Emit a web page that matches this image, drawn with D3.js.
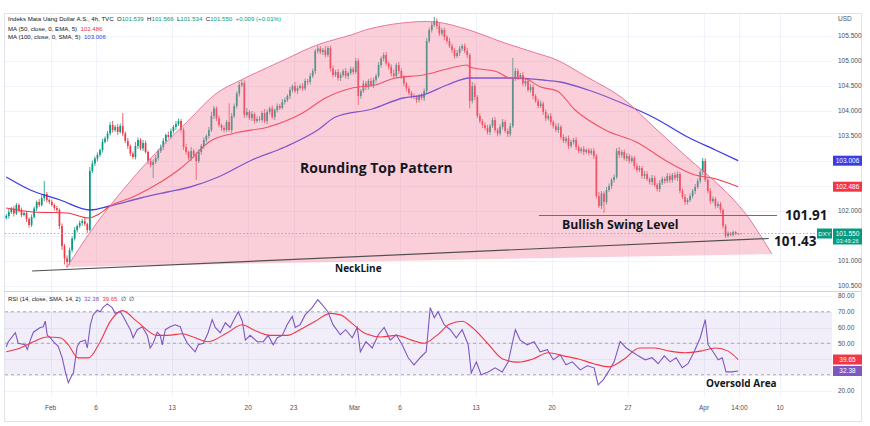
<!DOCTYPE html>
<html><head><meta charset="utf-8">
<script src="https://cdn.jsdelivr.net/npm/d3@7/dist/d3.min.js"></script>
<style>body{margin:0;background:#fff}svg{display:block;font-family:"Liberation Sans",Arial,sans-serif}text{white-space:pre}</style>
</head><body><svg id="c" width="870" height="426"></svg>
<script>
// ---- DATA (4h DXY candles, Jan 27 – Apr 5) ----
const firstOpen = 101.86;
const closes = [
101.90,101.98,102.05,101.95,102.12,102.02,101.92,101.96,101.84,101.72,
101.88,102.05,102.18,102.12,102.26,102.34,102.22,102.18,102.12,102.06,
102.02,101.70,101.30,101.05,100.98,101.22,101.45,101.62,101.70,101.76,
101.80,101.74,101.62,102.80,102.95,103.05,103.12,103.22,103.38,103.45,
103.55,103.72,103.62,103.68,103.58,103.70,103.55,103.40,103.30,103.15,
103.08,103.30,103.42,103.25,103.36,103.18,103.00,102.92,102.98,103.06,
103.20,103.28,103.40,103.52,103.48,103.60,103.68,103.74,103.80,103.62,
103.28,103.18,103.06,103.20,103.12,103.00,103.18,103.30,103.42,103.50,
103.62,103.90,104.05,103.85,103.72,103.66,103.62,103.78,103.62,103.90,
104.10,104.35,104.52,104.56,103.92,103.98,103.86,103.94,103.80,103.84,
103.82,103.96,103.80,103.98,104.05,103.88,104.02,104.10,104.06,104.18,
104.22,104.30,104.42,104.50,104.40,104.46,104.50,104.45,104.60,104.58,
104.70,104.80,105.20,105.25,105.18,105.22,105.12,105.26,104.85,104.72,
104.78,104.66,104.72,104.80,104.70,104.76,104.84,104.78,105.00,104.30,
104.40,104.55,104.48,104.60,104.52,104.62,104.70,104.92,105.05,105.12,
104.95,104.88,104.75,104.70,104.92,104.80,104.68,104.55,104.45,104.36,
104.30,104.28,104.22,104.30,104.26,104.40,105.40,105.62,105.72,105.80,
105.70,105.55,105.62,105.48,105.40,105.30,105.22,105.10,105.16,105.25,
105.30,105.20,105.12,104.20,104.50,104.28,103.90,103.80,103.72,103.66,
103.58,103.70,103.82,103.62,103.55,103.68,103.78,103.60,103.54,103.70,
104.65,104.80,104.68,104.72,104.55,104.60,104.42,104.48,104.30,104.20,
104.10,104.15,103.98,103.85,103.90,103.78,103.70,103.62,103.68,103.48,
103.40,103.45,103.30,103.38,103.42,103.28,103.20,103.24,103.18,103.22,
103.16,103.20,103.10,102.30,102.10,102.35,102.18,102.42,102.50,102.62,
102.68,103.20,103.12,103.18,103.05,103.10,103.00,103.06,102.90,102.82,
102.86,102.70,102.74,102.64,102.58,102.66,102.52,102.44,102.56,102.64,
102.60,102.70,102.62,102.72,102.66,102.74,102.40,102.28,102.18,102.22,
102.30,102.40,102.48,102.60,102.78,103.00,102.62,102.40,102.20,102.24,
102.10,102.14,102.02,101.70,101.50,101.56,101.52,101.58,101.54,101.55,
101.55];
// wick extension above body / below body, in hundredths
const hiExt = [
4,6,3,5,4,3,5,2,4,3, 5,4,3,6,8,26,4,3,5,3, 4,3,5,4,6,5,4,6,3,5, 4,6,3,8,6,4,5,3,6,4,
5,6,8,4,6,5,26,4,6,3, 4,8,5,4,6,5,3,4,5,6, 4,5,6,3,7,5,4,6,5,4, 5,6,3,8,4,5,6,4,5,3,
6,8,5,4,6,3,5,4,37,6, 5,4,6,6,5,8,4,6,3,5, 6,4,8,5,4,6,3,5,4,6, 5,4,6,3,8,5,4,6,5,4,
6,5,4,6,5,4,8,4,5,6, 4,6,5,4,6,3,5,4,6,5, 4,6,5,4,6,5,4,6,4,5, 6,4,5,8,4,6,5,4,3,5,
4,5,3,4,6,5,6,5,6,8, 5,6,4,5,4,6,5,4,6,5, 4,5,6,4,8,5,4,6,4,5, 6,4,5,6,4,5,6,4,5,6,
41,6,5,4,6,5,4,6,5,4, 5,6,4,5,4,6,3,5,8,4, 5,4,6,5,4,6,5,4,6,3, 4,5,6,4,8,5,4,6,5,4,
5,6,8,4,5,6,4,5,4,6, 5,4,6,5,4,6,5,4,6,5, 4,6,5,4,6,5,4,5,6,4, 5,4,6,5,4,6,5,4,6,5,
4,5,4,3,4,3,2,3,2,1, 1];
const loExt = [
3,5,4,6,3,5,4,3,6,5, 4,3,5,4,3,6,5,4,3,5, 4,6,8,12,12,6,5,4,5,4, 5,4,6,3,4,5,6,4,5,3,
6,4,5,4,6,3,5,4,6,5, 4,5,6,4,5,3,6,5,26,4, 5,4,6,5,3,4,5,6,4,5, 6,5,4,6,5,38,4,5,6,4,
5,4,6,5,4,6,5,4,3,6, 4,5,6,4,6,5,4,6,5,4, 3,5,4,6,5,4,6,5,4,3, 5,4,6,5,4,6,3,5,4,6,
5,4,6,5,4,6,5,4,6,5, 4,5,6,4,5,6,4,5,4,18, 5,4,6,5,4,6,5,4,5,6, 4,5,6,4,5,6,4,5,6,4,
5,4,6,5,4,6,5,4,5,4, 6,5,4,6,5,4,6,5,4,6, 5,4,6,15,5,6,4,5,6,4, 5,6,4,5,6,4,5,4,6,5,
4,5,6,4,5,6,4,5,6,4, 5,4,6,5,4,6,5,4,6,5, 4,5,6,4,5,6,4,5,6,4, 5,4,6,5,4,6,22,5,4,6,
5,4,6,5,4,6,5,4,6,5, 4,5,6,4,5,6,4,5,6,4, 5,4,6,5,4,6,5,4,6,5, 4,5,6,4,5,6,4,5,6,4,
5,4,6,5,4,3,2,3,2,1, 1];
// moving averages, [bar, price]
const ema50 = [[0,102.06],[10.7,101.98],[24,101.96],[32.4,101.86],[36,101.92],[41,102.10],[50,102.28],[61,102.58],[69,102.86],[72.6,103.02],[80,103.38],[90.4,103.56],[103.4,103.68],[117,103.96],[126,104.26],[136.6,104.46],[145.7,104.52],[153.6,104.66],[164.6,104.72],[174,104.84],[182,104.92],[183,104.88],[194,104.78],[199,104.66],[204,104.66],[211,104.48],[217.5,104.40],[224.6,104.02],[236.5,103.62],[249.5,103.36],[260,103.02],[272,102.72],[278.7,102.66],[289,102.486]];
const sma100 = [[0,102.68],[9.5,102.42],[21.3,102.22],[33.2,102.02],[41,102.10],[53,102.26],[63.6,102.38],[72.6,102.48],[83.7,102.68],[97,103.02],[110,103.28],[123,103.62],[130,103.88],[144.5,104.04],[156.7,104.26],[164.6,104.32],[174,104.52],[183,104.66],[199,104.66],[212,104.62],[218.7,104.58],[229.8,104.42],[243,104.16],[256,103.86],[269,103.48],[280,103.22],[289,103.006]];
// RSI(14) and its SMA(14), [bar, value]
const rsi = [[0,47.8],[0.8,51],[3.6,56.7],[4.7,50],[7.5,49],[8.3,46],[9.5,52],[10.7,57],[13.4,60],[14.6,60.5],[15.4,64],[16.2,55],[17.4,53.5],[18.6,51],[20.5,48],[22.1,40.7],[23.3,32],[24.5,25],[26,30],[26.5,31],[28,48],[29.2,51],[31.2,52],[32,47],[33.2,61.7],[34.3,68],[35.9,71],[37.1,70],[38.3,73],[39.9,75],[41.8,72.6],[43,69],[45,70],[46.2,67],[47.8,62],[49,58.6],[50.1,53.5],[51.7,58.6],[53.7,60.5],[55.7,55],[56.8,47],[58,50],[59.6,57],[60.8,55],[61.6,49],[62.8,58.6],[64.7,60.5],[66.7,61.7],[68.7,60.5],[69.9,55],[71.5,50],[72.6,48],[74.6,44.6],[75.8,49],[77.8,50],[79.7,56.7],[81.3,65],[82.5,60],[84.5,56.7],[86.5,63],[88.4,60],[89.6,64],[91.6,70],[93.2,64],[94.4,52],[96.3,55],[99.1,51],[101.5,51],[103.4,55],[105.4,49],[107,53.5],[109,55],[110.9,61.7],[112.9,67],[114.1,60],[116,61.7],[118,68],[120.8,72.6],[123,77.7],[124.7,74.5],[127,70],[129,61.8],[131.9,55.4],[134,58.6],[136.6,53.5],[138.6,60],[139.8,44.6],[142,51],[144.5,47],[146.9,55.4],[149.2,60],[151.6,52],[154,55.4],[156.3,49],[158.7,40.8],[161,36.3],[163.4,40.8],[165.8,44.6],[167.4,72.6],[169,66.2],[170.5,70],[172.9,61.8],[175.3,58.6],[177.7,53.5],[180,58.6],[182.4,49],[183.6,31.2],[185.6,38.2],[187.5,30],[190.3,31.8],[193,34.4],[195.8,31.8],[198.2,38.2],[201,58.6],[202.9,52],[205.7,49],[208.4,51],[210.8,44.6],[213.6,45.9],[216,39.5],[218.7,42.7],[221,36.3],[223.5,38.2],[226.6,33.1],[229.4,35.7],[232.1,34.4],[233.7,23.6],[235.7,26.8],[237.7,31.8],[240,38.2],[242.4,51],[244.8,47],[247.1,44.6],[249.5,42],[252.3,39.5],[255,40.8],[257.4,37],[259.8,42],[262.1,38.2],[264.5,40.8],[266.9,34.4],[269.2,37],[271.6,44.6],[274,53.5],[276,65],[277.1,49],[279.1,44.6],[281.1,39.5],[282.7,40.8],[284.2,31.8],[286.6,31.8],[289,32.38]];
const rsiMA = [[0,44.6],[5.5,47],[10.7,51],[16.2,54],[21.3,53.5],[24.5,49],[28.4,40.7],[32.4,40.7],[37.1,51],[41,63.7],[45.8,70.7],[51.7,63.7],[59.6,55],[63.6,55],[69.5,56],[73.8,54],[79.7,51],[87.3,56.7],[93.2,61.7],[97.5,58.6],[104.2,55],[111,55],[116,58.6],[122,64],[128,69],[132,68],[137,62],[142,56],[148,54],[154,55],[160,52],[165,50],[170,55],[175,62],[180,64],[184,60],[190,50],[196,40],[202,38],[208,40],[214,44],[220,42],[226,40],[232,37],[238,35],[244,40],[250,47],[256,47],[262,45],[268,44],[274,45],[280,47],[285,45],[289,39.65]];
// pattern drawings, [bar, price]
const arcPts = [[24.5,100.88],[37.1,101.82],[56.9,103.02],[72.6,103.82],[83.7,104.36],[93.2,104.62],[110.1,105.02],[123.2,105.32],[136.6,105.52],[143.7,105.64],[156.7,105.76],[170.2,105.78],[183.2,105.62],[196.2,105.38],[209.6,105.16],[217.9,105.02],[229.8,104.68],[243.2,104.28],[256.2,103.68],[269.2,103.08],[282.7,102.48],[292.5,101.94],[302.8,101.14]];
const neckPts = [[10.7,100.80],[301.6,101.45]];
const swingPts = [[210.8,101.91],[304.8,101.91]];
const lastPrice = 101.55;
const priceTicks = [100.5,101,101.5,102,102.5,103,103.5,104,104.5,105,105.5];
const rsiTicks = [20,30,40,50,60,70,80];
const xTickBars = [18,36,66,96,114,138,156,186,216,246,276,290,306];
const xTickLabels = ["Feb","6","13","20","23","Mar","6","13","20","27","Apr","14:00","10"];

// ---- DRAW ----
const svg = d3.select("#c");
const UP="#089981", DN="#f23645", BLUE="#3c3ce6", PURP="#7e57c2";
const x = d3.scaleLinear().domain([0,306]).range([5,780]);
const y = d3.scaleLinear().domain([100.5,105.5]).range([286,36]);
const yr = d3.scaleLinear().domain([20,80]).range([390.5,296]);
const plotR = 832;

// frame
svg.append("rect").attr("x",4.5).attr("y",13.5).attr("width",857).attr("height",408).attr("fill","none").attr("stroke","#e0e3eb");
svg.append("line").attr("x1",4.5).attr("x2",861.5).attr("y1",291.5).attr("y2",291.5).attr("stroke","#d1d4dc");

// grids
const g = svg.append("g").attr("stroke","#f0f3fa");
priceTicks.forEach(t=>g.append("line").attr("x1",5).attr("x2",plotR).attr("y1",Math.round(y(t))+0.5).attr("y2",Math.round(y(t))+0.5));
rsiTicks.forEach(t=>g.append("line").attr("x1",5).attr("x2",plotR).attr("y1",Math.round(yr(t))+0.5).attr("y2",Math.round(yr(t))+0.5));
xTickBars.forEach(b=>{g.append("line").attr("x1",Math.round(x(b))+0.5).attr("x2",Math.round(x(b))+0.5).attr("y1",14).attr("y2",291);
  g.append("line").attr("x1",Math.round(x(b))+0.5).attr("x2",Math.round(x(b))+0.5).attr("y1",292).attr("y2",397);});

// candles
const cg = svg.append("g");
closes.forEach((c,i)=>{
  const o = i? closes[i-1] : firstOpen;
  const hi = Math.max(o,c)+hiExt[i]/100, lo = Math.min(o,c)-loExt[i]/100;
  const col = c>=o?UP:DN, cx = x(i+0.5);
  cg.append("line").attr("x1",cx).attr("x2",cx).attr("y1",y(hi)).attr("y2",y(lo)).attr("stroke",col).attr("stroke-width",0.8);
  const t = Math.min(y(o),y(c)), h = Math.max(0.7,Math.abs(y(o)-y(c)));
  cg.append("rect").attr("x",cx-0.85).attr("y",t).attr("width",1.7).attr("height",h).attr("fill",col);
});

// moving averages
const ln = d3.line().x(d=>x(d[0]+0.5)).y(d=>y(d[1])).curve(d3.curveMonotoneX);
svg.append("path").attr("d",ln(sma100)).attr("fill","none").attr("stroke",BLUE).attr("stroke-width",1.3);
svg.append("path").attr("d",ln(ema50)).attr("fill","none").attr("stroke",DN).attr("stroke-width",1.1);

// rounding top drawing
const arcLine = d3.line().x(d=>x(d[0])).y(d=>y(d[1])).curve(d3.curveCatmullRom.alpha(0.5));
svg.append("path").attr("d",arcLine(arcPts)+"Z").attr("fill","#f2809f").attr("fill-opacity",0.38).attr("stroke","none");
svg.append("path").attr("d",arcLine(arcPts)).attr("fill","none").attr("stroke","#e56b92").attr("stroke-width",0.9);

// current price dotted line
svg.append("line").attr("x1",5).attr("x2",plotR).attr("y1",y(lastPrice)).attr("y2",y(lastPrice)).attr("stroke","#9aa0ab").attr("stroke-dasharray","1.5,2").attr("stroke-width",0.8);

// neckline & swing level
const pl = d3.line().x(d=>x(d[0])).y(d=>y(d[1]));
svg.append("path").attr("d",pl(neckPts)).attr("stroke","#505050").attr("stroke-width",1.2).attr("fill","none");
svg.append("path").attr("d",pl(swingPts)).attr("stroke","#e8364f").attr("stroke-width",1.2).attr("fill","none");

// annotations
const ann = (t,xx,yy,fs)=>svg.append("text").attr("x",xx).attr("y",yy).attr("font-size",fs).attr("font-weight","bold").attr("fill","#131722").attr("font-family","'Open Sans',sans-serif").text(t);
ann("Rounding Top Pattern",300,173,14);
ann("Bullish Swing Level",562,229,12.3);
ann("101.91",785,220,13.5);
ann("101.43",774,245.5,13.5);
ann("NeckLine",335,272,10);
ann("Oversold Area",706,387,10);

// RSI panel
svg.append("rect").attr("x",5).attr("width",plotR-5).attr("y",yr(70)).attr("height",yr(30)-yr(70)).attr("fill",PURP).attr("fill-opacity",0.1);
[70,50,30].forEach(v=>svg.append("line").attr("x1",5).attr("x2",plotR).attr("y1",yr(v)).attr("y2",yr(v)).attr("stroke","#9598a1").attr("stroke-dasharray","3,3").attr("stroke-width",0.8));
const rl = d3.line().x(d=>x(d[0]+0.5)).y(d=>yr(d[1]));
svg.append("path").attr("d",rl(rsi)).attr("fill","none").attr("stroke",PURP).attr("stroke-width",1.1);
svg.append("path").attr("d",rl.curve(d3.curveMonotoneX)(rsiMA)).attr("fill","none").attr("stroke",DN).attr("stroke-width",1.1);

// value boxes (define first so hidden tick labels can be skipped)
const boxes = [[y(103.006),10],[y(102.486),10],[y(lastPrice)+3,16],[yr(39.65),10],[yr(32.38),10]];
const covered = yy => boxes.some(([c,h])=>Math.abs(yy-c) < h/2+3);

// axis labels
const axf = d3.format(".3f");
const at = svg.append("g").attr("font-size",6.5).attr("fill","#4a4e59");
at.append("text").attr("x",838).attr("y",21).text("USD");
priceTicks.filter(t=>!covered(y(t))).forEach(t=>at.append("text").attr("x",838).attr("y",y(t)+2.3).text(axf(t)));
rsiTicks.filter(t=>!covered(yr(t))).forEach(t=>at.append("text").attr("x",838).attr("y",yr(t)+2.3).text(t.toFixed(2)));
xTickBars.forEach((b,i)=>at.append("text").attr("x",x(b)).attr("y",410).attr("text-anchor","middle").text(xTickLabels[i]));

function box(yy,col,txt){svg.append("rect").attr("x",833).attr("y",yy-5).attr("width",29).attr("height",10).attr("fill",col);
  svg.append("text").attr("x",847.5).attr("y",yy+2.3).attr("text-anchor","middle").attr("font-size",6.5).attr("fill","#fff").text(txt);}
box(y(103.006),BLUE,"103.006");
box(y(102.486),DN,"102.486");
box(yr(39.65),DN,"39.65");
box(yr(32.38),PURP,"32.38");
svg.append("rect").attr("x",833).attr("y",y(lastPrice)-5).attr("width",29).attr("height",16).attr("fill",UP);
svg.append("text").attr("x",847.5).attr("y",y(lastPrice)+2.3).attr("text-anchor","middle").attr("font-size",6.5).attr("fill","#fff").text("101.550");
svg.append("text").attr("x",847.5).attr("y",y(lastPrice)+9.3).attr("text-anchor","middle").attr("font-size",5.8).attr("fill","#dff").text("03:49:26");
svg.append("rect").attr("x",817).attr("y",y(lastPrice)-5).attr("width",15).attr("height",10).attr("fill",UP);
svg.append("text").attr("x",824.5).attr("y",y(lastPrice)+2.3).attr("text-anchor","middle").attr("font-size",6).attr("fill","#fff").text("DXY");

// legends
const h1 = svg.append("text").attr("x",8).attr("y",21).attr("font-size",6.1).attr("fill","#131722");
h1.append("tspan").text("Indeks Mata Uang Dollar A.S., 4h, TVC  O");
h1.append("tspan").attr("fill",UP).text("101.539");
h1.append("tspan").text("  H"); h1.append("tspan").attr("fill",UP).text("101.566");
h1.append("tspan").text("  L"); h1.append("tspan").attr("fill",UP).text("101.534");
h1.append("tspan").text("  C"); h1.append("tspan").attr("fill",UP).text("101.550  +0.009 (+0.01%)");
const h2 = svg.append("text").attr("x",8).attr("y",30.5).attr("font-size",6.1).attr("fill","#131722");
h2.append("tspan").text("MA (50, close, 0, EMA, 5)  "); h2.append("tspan").attr("fill",DN).text("102.486");
const h3 = svg.append("text").attr("x",8).attr("y",38.5).attr("font-size",6.1).attr("fill","#131722");
h3.append("tspan").text("MA (100, close, 0, SMA, 5)  "); h3.append("tspan").attr("fill",BLUE).text("103.006");
const h4 = svg.append("text").attr("x",8).attr("y",300.5).attr("font-size",6).attr("fill","#131722");
h4.append("tspan").text("RSI (14, close, SMA, 14, 2)  "); h4.append("tspan").attr("fill",PURP).text("32.38");
h4.append("tspan").text("  "); h4.append("tspan").attr("fill",DN).text("39.65");
h4.append("tspan").text("  \u2205  \u2205");
</script></body></html>
